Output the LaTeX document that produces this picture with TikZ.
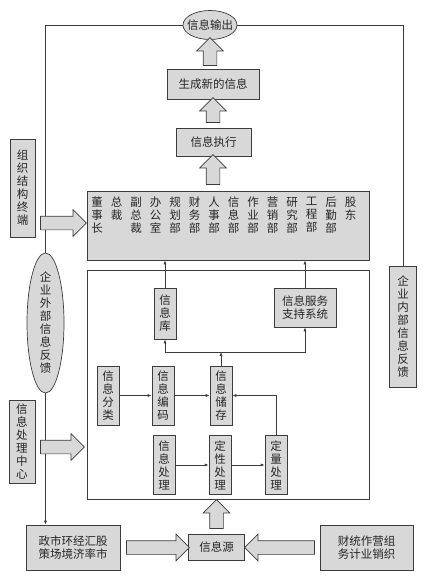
\documentclass[tikz,border=0pt]{standalone}
\usepackage{fontspec}
\usepackage{tikz}
\usetikzlibrary{shapes.geometric, shapes.arrows, arrows.meta, calc, backgrounds}
\newfontfamily\cjk{Noto Sans CJK SC}
\definecolor{boxgray}{RGB}{216,216,216}
\definecolor{linegray}{RGB}{60,60,60}

\begin{document}
\begin{tikzpicture}[
    x=1pt, y=-1pt,
    every node/.style={font=\cjk\fontsize{11.5}{13}\selectfont, text=black!85},
    box/.style={rectangle, draw=linegray, line width=0.7pt, fill=boxgray, inner sep=1pt, align=center},
    vbox/.style={box, minimum width=22pt, minimum height=59pt},
    oval/.style={ellipse, draw=linegray, line width=0.7pt, fill=boxgray, inner sep=0pt},
    fat/.style={single arrow, draw=linegray, line width=0.7pt, fill=boxgray, inner xsep=0pt, inner ysep=6.5pt, single arrow head extend=6.5pt, minimum height=#1},
    wire/.style={draw=linegray, line width=0.7pt},
    link/.style={wire, -{Latex[length=4pt,width=3pt]}}
]
\useasboundingbox (0,0) rectangle (433,581);

% Output chain
\node[oval, minimum width=54pt, minimum height=29pt, label=center:信息输出] (out) at (210,25) {};
\node[box, minimum width=92pt, minimum height=30pt] (gen) at (213,84) {生成新的信息};
\node[box, minimum width=75pt, minimum height=28pt] (exe) at (213.5,142) {信息执行};
\node[box, minimum width=282pt, minimum height=69pt] (dept) at (228,225.5) {};

% Departments
\foreach \d [count=\i from 0] in {{董\\事\\长},{总\\裁},{副\\总\\裁},{办\\公\\室},{规\\划\\部},{财\\务\\部},{人\\事\\部},{信\\息\\部},{作\\业\\部},{营\\销\\部},{研\\究\\部},{工\\程\\部},{后\\勤\\部},{股\\东}}
    \node[anchor=north, align=center, inner sep=0pt] (d\i) at (97+\i*19.5,197) {\d};

% Side boxes
\node[box, minimum width=25pt, minimum height=98pt] (org) at (22.5,188) {组\\织\\结\\构\\终\\端};
\node[oval, minimum width=37pt, minimum height=140pt, label={[align=center]center:{企\\业\\外\\部\\信\\息\\反\\馈}}] (ext) at (45.5,323) {};
\node[box, minimum width=27pt, minimum height=121pt] (int) at (403,326.5) {企\\业\\内\\部\\信\\息\\反\\馈};
\node[box, minimum width=26pt, minimum height=83pt] (proc) at (22,441.5) {信\\息\\处\\理\\中\\心};

% Processing frame
\node[rectangle, draw=linegray, line width=0.7pt, fill=white, minimum width=282pt, minimum height=229pt] (frame) at (228,384.5) {};
\node[vbox, minimum height=51pt] (lib) at (165,313.5) {信\\息\\库};
\node[box, minimum width=62pt, minimum height=39pt] (svc) at (305,307.5) {信息服务\\支持系统};
\node[vbox] (cls) at (108,395.5) {信\\息\\分\\类};
\node[vbox] (enc) at (163,395.5) {信\\息\\编\\码};
\node[vbox] (sto) at (221,395.5) {信\\息\\储\\存};
\node[vbox] (hdl) at (164,465) {信\\息\\处\\理};
\node[vbox] (qual) at (220,465) {定\\性\\处\\理};
\node[vbox] (quant) at (276,465) {定\\量\\处\\理};

% Sources
\node[box, minimum width=94pt, minimum height=45pt] (env) at (73,547.5) {政市环经汇股\\策场境济率市};
\node[box, minimum width=56pt, minimum height=26pt] (src) at (216.5,547.5) {信息源};
\node[box, minimum width=93pt, minimum height=45pt] (biz) at (366.5,548) {财统作营组\\务计业销织};

% Block arrows
\node[fat=28pt, rotate=90] (a1) at (210,55) {};
\node[fat=25pt, rotate=90] (a2) at (213,113.5) {};
\node[fat=30pt, rotate=90] (a3) at (213,173) {};
\node[fat=46pt] (a4) at (60,223) {};
\node[fat=44pt] (a5) at (59,447) {};
\node[fat=63pt] (a6) at (154.5,547.5) {};
\node[fat=29pt, rotate=90] (a7) at (216.5,517.5) {};
\node[fat=70pt, rotate=180] (a8) at (283,547.5) {};

% Feedback lines
\begin{scope}[on background layer]
\draw[wire] (out.west) -| (ext.north);
\draw[link] (ext.south) -- (ext.south |- env.north);
\draw[wire] (out.east) -| (int.north);
\end{scope}

% Inner connectors
\coordinate (jn) at (221,352);
\draw[link] (lib.north) -- (lib.north |- dept.south);
\draw[link] (svc.north) -- (svc.north |- dept.south);
\draw[link] (sto.north) -- (jn);
\draw[link] (jn) -| (lib.south);
\draw[link] (jn) -| (svc.south);
\draw[link] (cls) -- (enc);
\draw[link] (enc) -- (sto);
\draw[link] (quant.north) |- (sto.east);
\draw[link] (hdl) -- (qual);
\draw[link] (qual) -- (quant);

\end{tikzpicture}
\end{document}
